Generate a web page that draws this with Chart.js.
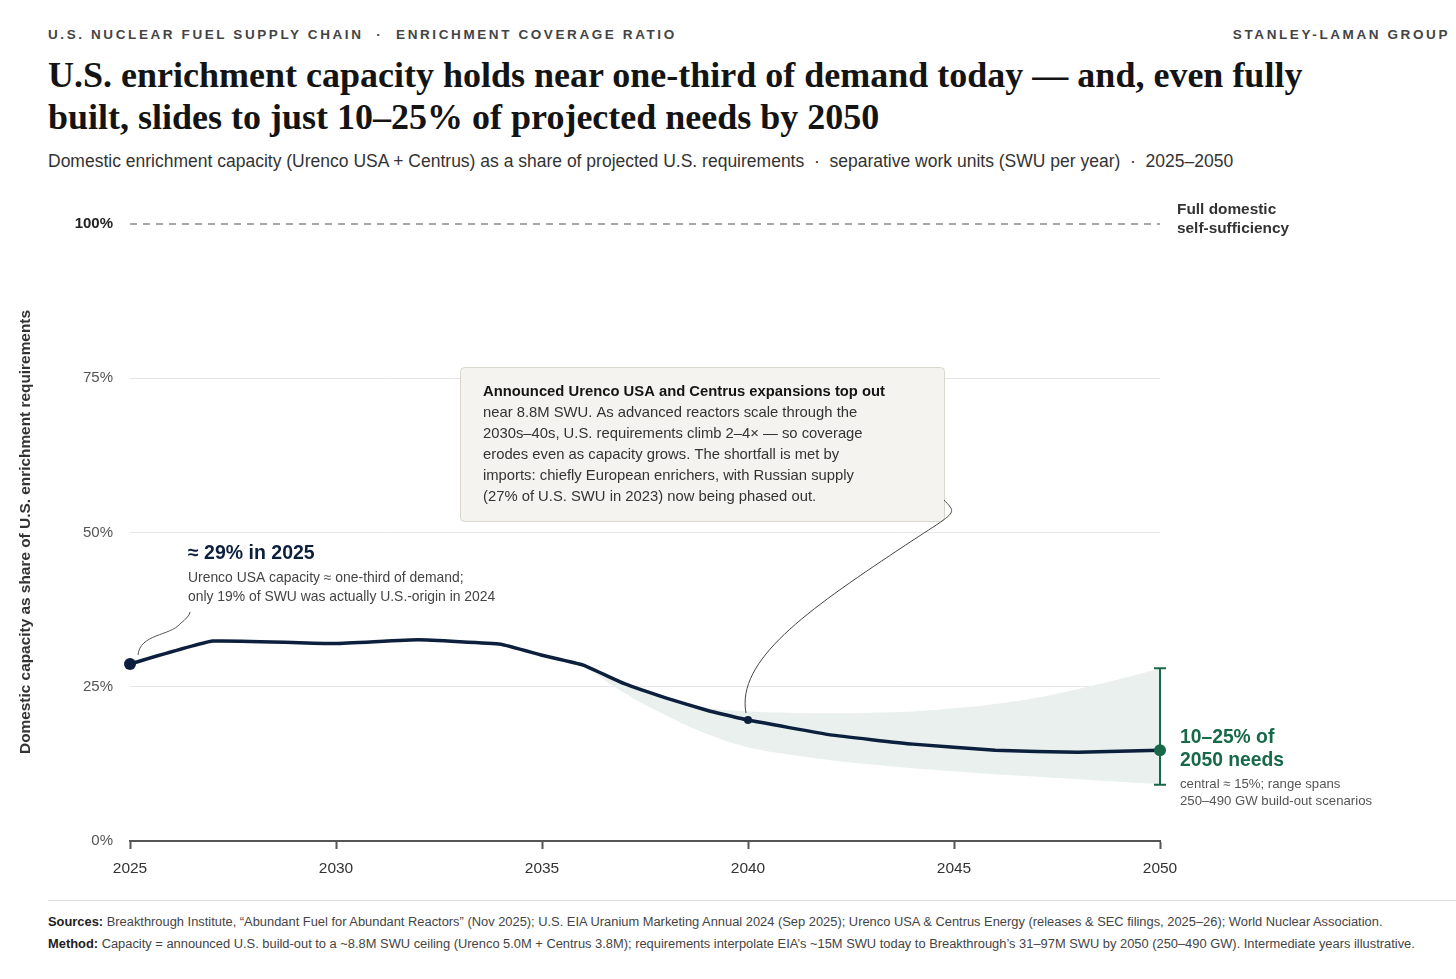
<!DOCTYPE html>
<html>
<head>
<meta charset="utf-8">
<script src="https://cdn.jsdelivr.net/npm/chart.js@4"></script>
<style>
  html, body { margin: 0; padding: 0; background: #fff; overflow: hidden; }
  body { width: 1456px; height: 979px; position: relative; font-family: "Liberation Sans", Arial, sans-serif; color: #222; }
  .kicker { position: absolute; top: 27px; font-size: 13.5px; font-weight: bold; letter-spacing: 2.6px; color: #444; }
  .title { position: absolute; left: 48px; top: 54px; font-family: "Liberation Serif", "Times New Roman", serif; font-weight: bold; font-size: 36px; line-height: 42px; color: #141414; }
  .sub { position: absolute; left: 48px; top: 151px; font-size: 17.5px; color: #333; }
  #wrap { position: absolute; left: 0; top: 190px; width: 1456px; height: 700px; }
  .rule { position: absolute; left: 48px; right: 0; top: 900px; border-top: 1px solid #ddd; }
  .foot { position: absolute; left: 48px; font-size: 12.88px; color: #444; white-space: nowrap; }
  .foot b { color: #222; }
</style>
</head>
<body>
<div class="kicker" style="left:48px">U.S. NUCLEAR FUEL SUPPLY CHAIN &nbsp;·&nbsp; ENRICHMENT COVERAGE RATIO</div>
<div class="kicker" style="right:6px">STANLEY-LAMAN GROUP</div>
<div class="title">U.S. enrichment capacity holds near one-third of demand today — and, even fully<br>built, slides to just 10–25% of projected needs by 2050</div>
<div class="sub">Domestic enrichment capacity (Urenco USA + Centrus) as a share of projected U.S. requirements &nbsp;·&nbsp; separative work units (SWU per year) &nbsp;·&nbsp; 2025–2050</div>
<div id="wrap"><canvas id="chart_1" width="1456" height="700"></canvas></div>
<div class="rule"></div>
<div class="foot" style="top:914px"><b>Sources:</b> Breakthrough Institute, “Abundant Fuel for Abundant Reactors” (Nov 2025); U.S. EIA Uranium Marketing Annual 2024 (Sep 2025); Urenco USA &amp; Centrus Energy (releases &amp; SEC filings, 2025–26); World Nuclear Association.</div>
<div class="foot" style="top:936px"><b>Method:</b> Capacity = announced U.S. build-out to a ~8.8M SWU ceiling (Urenco 5.0M + Centrus 3.8M); requirements interpolate EIA’s ~15M SWU today to Breakthrough’s 31–97M SWU by 2050 (250–490 GW). Intermediate years illustrative.</div>

<script>
const years = [2025, 2027, 2030, 2032, 2034, 2035, 2036, 2037, 2038, 2039, 2040, 2042, 2044, 2046, 2048, 2050];
const coverage = [28.7, 32.4, 32.0, 32.6, 31.9, 30.1, 28.5, 25.5, 23.2, 21.2, 19.6, 17.2, 15.7, 14.7, 14.4, 14.7];

const bandYears = [2036, 2037, 2038, 2039, 2040, 2041, 2042, 2043, 2044, 2045, 2046, 2047, 2048, 2049, 2050];
const bandHigh = [28.5, 25.6, 23.3, 21.6, 21.0, 20.8, 20.7, 20.8, 21.0, 21.5, 22.2, 23.2, 24.6, 26.2, 27.9];
const bandLow = [28.5, 24.0, 20.4, 17.4, 15.2, 14.0, 13.1, 12.4, 11.8, 11.3, 10.8, 10.4, 10.0, 9.6, 9.2];

const endYear = [2050];
const endCentral = [14.7];
const endRange = [9.1, 28.0];

const refYears = [2025, 2050];
const refLevel = [100, 100];

const yTicks = [0, 25, 50, 75, 100];
const xTicks = [2025, 2030, 2035, 2040, 2045, 2050];

const NAVY = '#0c1f3d';
const GREEN = '#17694a';
const SANS = '"Liberation Sans", Arial, sans-serif';

function pts(xs, ys) {
    return xs.map(function (x, i) { return { x: x, y: ys[i] }; });
}

function textLines(ctx, lines, x, y, lh) {
    lines.forEach(function (t, i) { ctx.fillText(t, x, y + i * lh); });
}

const notes = {
    id: 'notes',
    afterDatasetDraw: function (chart, args) {
        if (args.index !== 4) return;
        const ctx = chart.ctx;
        const xs = chart.scales.x, ys = chart.scales.y;
        const bx = xs.getPixelForValue(endYear[0]);
        const y1 = ys.getPixelForValue(endRange[0]);
        const y2 = ys.getPixelForValue(endRange[1]);
        ctx.save();
        ctx.strokeStyle = GREEN;
        ctx.lineWidth = 2;
        ctx.beginPath();
        ctx.moveTo(bx, y1); ctx.lineTo(bx, y2);
        ctx.moveTo(bx - 6, y1); ctx.lineTo(bx + 6, y1);
        ctx.moveTo(bx - 6, y2); ctx.lineTo(bx + 6, y2);
        ctx.stroke();
        ctx.restore();
    },
    afterDraw: function (chart) {
        const ctx = chart.ctx;
        const xs = chart.scales.x, ys = chart.scales.y;
        const off = 190; // canvas top on the page
        ctx.save();
        ctx.textBaseline = 'middle';
        ctx.textAlign = 'left';

        // y axis title
        ctx.save();
        ctx.translate(26, 532 - off);
        ctx.rotate(-Math.PI / 2);
        ctx.textAlign = 'center';
        ctx.fillStyle = '#333';
        ctx.font = 'bold 15.4px ' + SANS;
        ctx.fillText('Domestic capacity as share of U.S. enrichment requirements', 0, 0);
        ctx.restore();

        // 100% label
        ctx.fillStyle = '#333';
        ctx.font = 'bold 15.4px ' + SANS;
        textLines(ctx, ['Full domestic', 'self-sufficiency'], 1177, 210 - off, 19);

        // 2025 annotation
        ctx.fillStyle = NAVY;
        ctx.font = 'bold 19.5px ' + SANS;
        ctx.fillText('≈ 29% in 2025', 188, 554 - off);
        ctx.fillStyle = '#444';
        ctx.font = '13.9px ' + SANS;
        textLines(ctx, ['Urenco USA capacity ≈ one-third of demand;', 'only 19% of SWU was actually U.S.-origin in 2024'], 188, 578 - off, 19);

        const p0x = xs.getPixelForValue(years[0]);
        const p0y = ys.getPixelForValue(coverage[0]);
        ctx.strokeStyle = '#555';
        ctx.lineWidth = 1;
        ctx.beginPath();
        ctx.moveTo(p0x + 8, p0y - 9);
        ctx.bezierCurveTo(p0x + 10, p0y - 30, p0x + 40, p0y - 28, p0x + 50, p0y - 40);
        ctx.quadraticCurveTo(p0x + 60, p0y - 48, p0x + 60, p0y - 52);
        ctx.stroke();

        // callout box
        const bx = 460 + 0.5, by = 367 - off + 0.5, bw = 484, bh = 154;
        ctx.fillStyle = '#f5f3ef';
        ctx.strokeStyle = '#d9d6d0';
        ctx.beginPath();
        ctx.roundRect(bx, by, bw, bh, 4);
        ctx.fill();
        ctx.stroke();
        ctx.fillStyle = '#151515';
        ctx.font = 'bold 14.8px ' + SANS;
        ctx.fillText('Announced Urenco USA and Centrus expansions top out', 483, 392 - off);
        ctx.fillStyle = '#333';
        ctx.font = '14.8px ' + SANS;
        textLines(ctx, [
            'near 8.8M SWU. As advanced reactors scale through the',
            '2030s–40s, U.S. requirements climb 2–4× — so coverage',
            'erodes even as capacity grows. The shortfall is met by',
            'imports: chiefly European enrichers, with Russian supply',
            '(27% of U.S. SWU in 2023) now being phased out.'
        ], 483, 413 - off, 21);

        // connector from 2040 point to the box
        const i40 = years.indexOf(2040);
        const qx = xs.getPixelForValue(years[i40]);
        const qy = ys.getPixelForValue(coverage[i40]);
        ctx.strokeStyle = '#444';
        ctx.lineWidth = 1;
        ctx.beginPath();
        ctx.moveTo(qx - 2, qy - 7);
        ctx.bezierCurveTo(qx - 12, qy - 60, qx + 60, qy - 110, qx + 150, qy - 170);
        ctx.bezierCurveTo(qx + 210, qy - 210, qx + 210, qy - 205, qx + 196, 500 - off);
        ctx.stroke();

        // 2050 annotation
        ctx.fillStyle = GREEN;
        ctx.font = 'bold 19.3px ' + SANS;
        textLines(ctx, ['10–25% of', '2050 needs'], 1180, 738 - off, 23);
        ctx.fillStyle = '#555';
        ctx.font = '13.2px ' + SANS;
        textLines(ctx, ['central ≈ 15%; range spans', '250–490 GW build-out scenarios'], 1180, 784 - off, 17);
        ctx.restore();
    }
};

document.addEventListener("DOMContentLoaded", function () {
    const chart_1 = document.getElementById('chart_1');

    new Chart(chart_1, {
        type: 'line',
        data: {
            datasets: [
                {
                    label: 'Coverage',
                    data: pts(years, coverage),
                    borderColor: NAVY,
                    borderWidth: 3.5,
                    tension: 0.1,
                    pointRadius: function (c) { return c.dataIndex === 0 ? 6 : (years[c.dataIndex] === 2040 ? 4 : 0); },
                    pointBackgroundColor: NAVY,
                    pointBorderWidth: 0,
                    fill: false,
                    clip: false,
                    order: 1
                },
                {
                    label: '2050 central',
                    data: pts(endYear, endCentral),
                    pointRadius: 6,
                    pointBackgroundColor: GREEN,
                    pointBorderWidth: 0,
                    showLine: false,
                    clip: false,
                    order: 0
                },
                {
                    label: 'Full self-sufficiency',
                    data: pts(refYears, refLevel),
                    borderColor: '#8a8a8a',
                    borderWidth: 1.5,
                    borderDash: [7, 6],
                    pointRadius: 0,
                    fill: false,
                    clip: false,
                    order: 2
                },
                {
                    label: 'Range low',
                    data: pts(bandYears, bandLow),
                    borderWidth: 0,
                    borderColor: 'rgba(0,0,0,0)',
                    pointRadius: 0,
                    tension: 0.4,
                    fill: false,
                    order: 4
                },
                {
                    label: 'Range high',
                    data: pts(bandYears, bandHigh),
                    borderWidth: 0,
                    borderColor: 'rgba(0,0,0,0)',
                    backgroundColor: '#e9f0ed',
                    pointRadius: 0,
                    tension: 0.4,
                    fill: 3,
                    order: 3
                }
            ]
        },
        options: {
            responsive: false,
            animation: false,
            layout: { padding: { top: 34, right: 296, bottom: 14, left: 0 } },
            plugins: {
                legend: { display: false },
                tooltip: { enabled: false }
            },
            scales: {
                x: {
                    type: 'linear',
                    min: 2025,
                    max: 2050,
                    afterFit: function (s) { s.height = 35; },
                    afterBuildTicks: function (s) { s.ticks = xTicks.map(function (v) { return { value: v }; }); },
                    ticks: {
                        callback: function (v) { return String(v); },
                        color: '#333',
                        font: { family: SANS, size: 15.5 },
                        padding: 10,
                        maxRotation: 0
                    },
                    grid: { drawOnChartArea: false, drawTicks: true, tickLength: 8, tickColor: '#555', tickWidth: 2 },
                    border: { color: '#555', width: 2 }
                },
                y: {
                    min: 0,
                    max: 100,
                    afterFit: function (s) { s.width = 130; },
                    afterBuildTicks: function (s) { s.ticks = yTicks.map(function (v) { return { value: v }; }); },
                    ticks: {
                        callback: function (v) { return v + '%'; },
                        color: function (c) { return c.tick && c.tick.value === 100 ? '#222' : '#555'; },
                        font: function (c) {
                            return { family: SANS, size: 15, weight: (c.tick && c.tick.value === 100) ? 'bold' : 'normal' };
                        },
                        padding: 17
                    },
                    grid: {
                        color: function (c) { return (c.tick && (c.tick.value === 0 || c.tick.value === 100)) ? 'rgba(0,0,0,0)' : '#e6e6e6'; },
                        drawTicks: false,
                        lineWidth: 1
                    },
                    border: { display: false }
                }
            }
        },
        plugins: [notes]
    });
});
</script>
</body>
</html>
